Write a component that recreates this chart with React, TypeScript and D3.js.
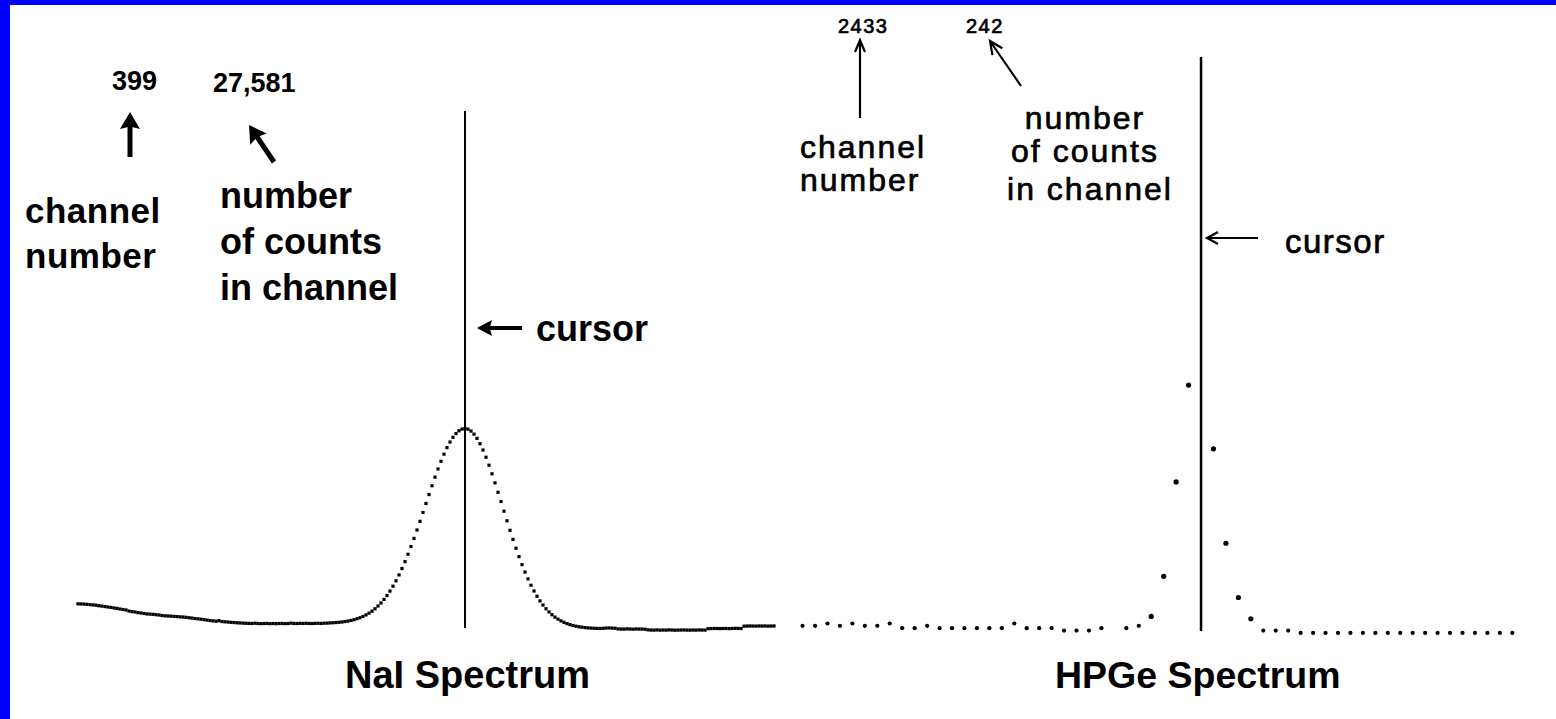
import { useEffect, useRef } from 'react';
import * as d3 from 'd3';

// NaI spectrum, counts per channel starting at channel 270
const naiStartChannel = 270;
const naiCounts = [
    4720, 4700, 4690, 4650, 4610, 4570, 4540, 4470, 4420, 4360,
    4300, 4250, 4180, 4120, 4040, 3980, 3920, 3770, 3700, 3650,
    3570, 3520, 3460, 3400, 3380, 3350, 3300, 3260, 3190, 3150,
    3130, 3110, 3080, 3050, 3020, 3000, 2960, 2900, 2860, 2800,
    2760, 2720, 2660, 2600, 2540, 2490, 2460, 2520, 2410, 2370,
    2340, 2300, 2280, 2250, 2220, 2200, 2180, 2170, 2160, 2190,
    2150, 2140, 2150, 2160, 2140, 2150, 2130, 2150, 2160, 2140,
    2150, 2200, 2160, 2150, 2170, 2160, 2180, 2160, 2150, 2170,
    2180, 2160, 2190, 2200,
    // peak
    2230, 2250, 2280, 2310, 2350, 2410, 2470, 2550, 2650, 2770,
    2900, 3070, 3270, 3500, 3760, 4070, 4430, 4830, 5290, 5800,
    6380, 7020, 7720, 8490, 9320, 10220, 11180, 12190, 13250, 14350,
    15480, 16640, 17810, 18970, 20120, 21240, 22310, 23310, 24240, 25090,
    25820, 26440, 26930, 27290, 27510, 27581,
    27500, 27250, 26850, 26300, 25600, 24780, 23840, 22800, 21680, 20500,
    19270, 18060, 16800, 15550, 14310, 13120, 11970, 10870, 9830, 8860,
    7970, 7140, 6390, 5710, 5100, 4560, 4080, 3660, 3300, 2980,
    2720, 2490, 2300, 2140, 2000, 1890, 1800, 1730, 1670, 1620,
    1580, 1550, 1530, 1510, 1500,
    // right tail
    1520, 1560, 1570, 1550, 1540,
    1440, 1430, 1420, 1450, 1430, 1410, 1440, 1430, 1420, 1400,
    1320, 1300, 1290, 1310, 1280, 1300, 1290, 1320, 1300, 1280,
    1290, 1300, 1310, 1290, 1280, 1300, 1290, 1310, 1300, 1290,
    1480, 1490, 1510, 1500, 1490, 1500, 1510, 1490, 1500, 1520, 1510, 1500,
    1800, 1820, 1830, 1820, 1810, 1830, 1820, 1830, 1810, 1820, 1830,
];
const naiCursorChannel = 399;
const naiCursorLabel = '27,581';

// HPGe spectrum, counts per channel starting at channel 2401
const hpgeStartChannel = 2401;
const hpgeCounts: (number | null)[] = [
    6, 6, 7, 6, 7, 6, 6, 7, 5, 5,
    6, 5, 5, 5, 5, 5, 5, 7, 5, 5,
    5, 4, 4, 4, 5, null, 5, 6, 10, 27,
    67, 108, 242, 81, 41, 18, 9, 4, 4, 4,
    3, 3, 3, 3, 3, 3, 3, 3, 3, 3,
    3, 3, 3, 3, 3, 3, 3, 3,
];
const hpgeCursorChannel = 2433;
const hpgeCursorLabel = '242';

const chanLines = ['channel', 'number'];
const countLines = ['number', 'of counts', 'in channel'];

const FONT = '"Liberation Sans", Arial, sans-serif';

const App = () => {
    const svgRef = useRef<SVGSVGElement>(null);

    useEffect(() => {
        if (!svgRef.current) return;
        const svg = d3.select(svgRef.current);
        svg.selectAll('*').remove();

        svg.append('rect').attr('width', 1556).attr('height', 719).attr('fill', '#fff');
        svg.append('rect').attr('width', 10).attr('height', 719).attr('fill', '#0000ff');
        svg.append('rect').attr('width', 1556).attr('height', 5).attr('fill', '#0000ff');

        // ---------- NaI panel ----------
        const naiEnd = naiStartChannel + naiCounts.length - 1;
        const xNai = d3.scaleLinear().domain([naiStartChannel, naiEnd]).range([78, 774]);
        const yNai = d3.scaleLinear().domain([0, 30000]).range([640, 410]);

        svg.append('g')
            .selectAll('rect')
            .data(naiCounts)
            .join('rect')
            .attr('x', (d, i) => xNai(naiStartChannel + i) - 1.6)
            .attr('y', d => yNai(d) - 1.6)
            .attr('width', 3.2)
            .attr('height', 3.2)
            .attr('fill', '#000');

        const nx = xNai(naiCursorChannel);
        svg.append('line')
            .attr('x1', nx).attr('x2', nx)
            .attr('y1', 111).attr('y2', 628)
            .attr('stroke', '#000').attr('stroke-width', 2);

        // one text element, several lines
        const block = (x: number, y: number, lines: string[], size: number, lh: number,
                       weight: string, anchor = 'start', ls = 0, stroke = 0) => {
            const t = svg.append('text')
                .attr('x', x).attr('y', y)
                .attr('font-family', FONT)
                .attr('font-weight', weight)
                .attr('font-size', size)
                .attr('text-anchor', anchor)
                .attr('letter-spacing', ls)
                .attr('fill', '#000');
            if (stroke) t.attr('stroke', '#000').attr('stroke-width', stroke);
            lines.forEach((s, i) => {
                t.append('tspan')
                    .attr('x', x)
                    .attr('dy', i === 0 ? 0 : lh)
                    .text(s);
            });
            return t;
        };

        block(112, 90, [String(naiCursorChannel)], 27, 0, 'bold');
        block(213, 92, [naiCursorLabel], 27, 0, 'bold');
        block(25, 223, chanLines, 35, 45, 'bold', 'start', 0.5);
        block(220, 208, countLines, 36, 46, 'bold');
        block(536, 341, ['cursor'], 36, 0, 'bold');
        block(345, 688, ['NaI Spectrum'], 38, 0, 'bold');

        // thick filled arrows for the left panel
        const fatArrow = (x1: number, y1: number, x2: number, y2: number, w: number, hl: number, hw: number) => {
            const a = Math.atan2(y2 - y1, x2 - x1);
            const ca = Math.cos(a), sa = Math.sin(a);
            const bx = x2 - hl * ca, by = y2 - hl * sa;
            svg.append('line')
                .attr('x1', x1).attr('y1', y1).attr('x2', bx + 4 * ca).attr('y2', by + 4 * sa)
                .attr('stroke', '#000').attr('stroke-width', w);
            const px = -sa * hw, py = ca * hw;
            svg.append('path')
                .attr('d', `M${x2},${y2}L${bx + px},${by + py}L${bx + hl * 0.15 * ca},${by + hl * 0.15 * sa}L${bx - px},${by - py}Z`)
                .attr('fill', '#000');
        };
        fatArrow(130, 157, 130, 112, 5, 17, 10);
        fatArrow(274, 162, 249, 125, 5, 17, 10);
        fatArrow(522, 328, 477, 328, 4, 15, 8);

        // ---------- HPGe panel ----------
        const hpEnd = hpgeStartChannel + hpgeCounts.length - 1;
        const xHp = d3.scaleLinear().domain([hpgeStartChannel, hpEnd]).range([802.6, 1512.3]);
        const yHp = d3.scaleLinear().domain([0, 250]).range([640, 50]);

        const hpPts = hpgeCounts
            .map((c, i) => ({ ch: hpgeStartChannel + i, c }))
            .filter(p => p.c !== null) as { ch: number; c: number }[];

        svg.append('g')
            .selectAll('circle')
            .data(hpPts)
            .join('circle')
            .attr('cx', d => xHp(d.ch))
            .attr('cy', d => yHp(d.c))
            .attr('r', d => (d.ch === hpgeCursorChannel ? 1.2 : d.c > 8 ? 2.6 : 2.1))
            .attr('fill', '#000');

        const hx = xHp(hpgeCursorChannel);
        svg.append('line')
            .attr('x1', hx).attr('x2', hx)
            .attr('y1', 57).attr('y2', 631)
            .attr('stroke', '#000').attr('stroke-width', 2.5);

        block(838, 33, [String(hpgeCursorChannel)], 20, 0, 'normal', 'start', 1.5, 0.7);
        block(966, 33, [hpgeCursorLabel], 20, 0, 'normal', 'start', 1.5, 0.7);
        block(800, 158, chanLines, 32, 33, 'normal', 'start', 2, 0.7);
        block(1085, 129, countLines.slice(0, 2), 32, 33, 'normal', 'middle', 2, 0.7);
        block(1090, 200, countLines.slice(2), 32, 0, 'normal', 'middle', 2, 0.7);
        block(1285, 253, ['cursor'], 33, 0, 'normal', 'start', 1.5, 0.7);
        block(1055, 688, ['HPGe Spectrum'], 37.5, 0, 'bold');

        // thin open arrows for the right panel
        const thinArrow = (x1: number, y1: number, x2: number, y2: number, hl: number, hw: number) => {
            const a = Math.atan2(y2 - y1, x2 - x1);
            const bx = x2 - hl * Math.cos(a), by = y2 - hl * Math.sin(a);
            const px = -Math.sin(a) * hw, py = Math.cos(a) * hw;
            svg.append('path')
                .attr('d', `M${x1},${y1}L${x2},${y2}M${bx + px},${by + py}L${x2},${y2}L${bx - px},${by - py}`)
                .attr('fill', 'none')
                .attr('stroke', '#000')
                .attr('stroke-width', 2.2);
        };
        thinArrow(860, 118, 860, 40, 12, 5);
        thinArrow(1021, 86, 990, 41, 13, 6);
        thinArrow(1258, 238, 1207, 238, 11, 6);
    }, []);

    return (
        <svg
            ref={svgRef}
            width={1556}
            height={719}
            style={{ position: 'absolute', left: 0, top: 0, display: 'block' }}
        />
    );
};

export default App;
